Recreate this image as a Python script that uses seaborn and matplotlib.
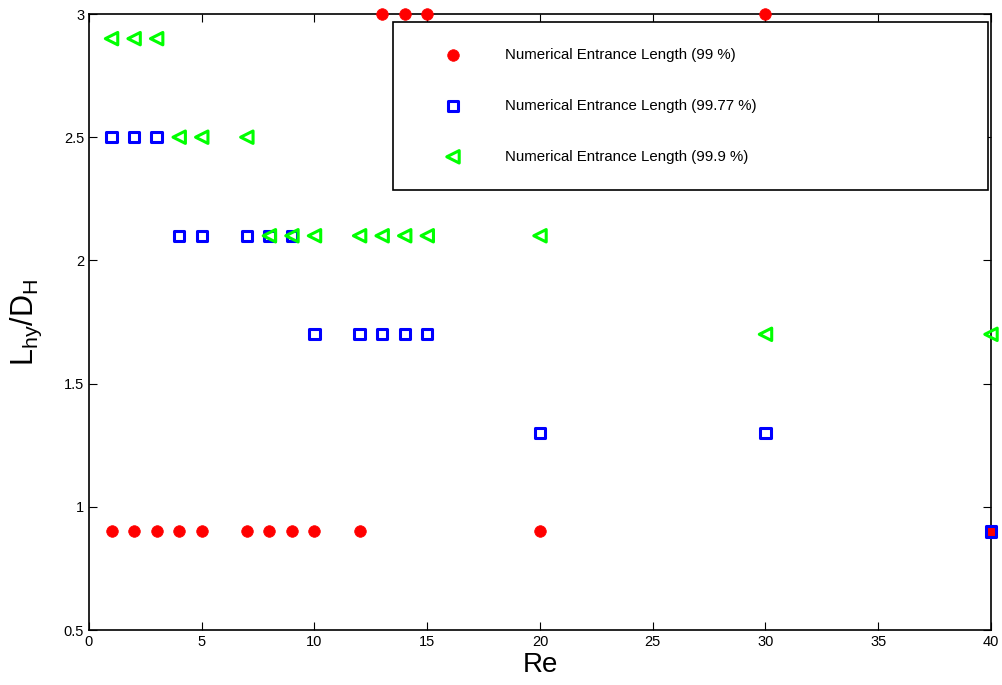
import matplotlib
matplotlib.use("Agg")
import matplotlib.pyplot as plt
import seaborn as sns

# data
re_99 = [1, 2, 3, 4, 5, 7, 8, 9, 10, 12, 13, 14, 15, 20, 30, 40]
len_99 = [0.9, 0.9, 0.9, 0.9, 0.9, 0.9, 0.9, 0.9, 0.9, 0.9, 3.0, 3.0, 3.0, 0.9, 3.0, 0.9]

re_9977 = [1, 2, 3, 4, 5, 7, 8, 9, 10, 12, 13, 14, 15, 20, 30, 40]
len_9977 = [2.5, 2.5, 2.5, 2.1, 2.1, 2.1, 2.1, 2.1, 1.7, 1.7, 1.7, 1.7, 1.7, 1.3, 1.3, 0.9]

re_999 = [1, 2, 3, 4, 5, 7, 8, 9, 10, 12, 13, 14, 15, 20, 30, 40]
len_999 = [2.9, 2.9, 2.9, 2.5, 2.5, 2.5, 2.1, 2.1, 2.1, 2.1, 2.1, 2.1, 2.1, 2.1, 1.7, 1.7]

LABELS = ["Numerical Entrance Length (99 %)",
          "Numerical Entrance Length (99.77 %)",
          "Numerical Entrance Length (99.9 %)"]

sns.set_style("ticks")
plt.rcParams['font.family'] = ['Liberation Sans', 'DejaVu Sans']
plt.rcParams.update({'text.color': 'black', 'axes.labelcolor': 'black',
                     'xtick.color': 'black', 'ytick.color': 'black'})

fig = plt.figure(figsize=(10.03, 6.85), dpi=100)
ax = fig.add_axes([89 / 1003, 1 - 630 / 685, (991 - 89) / 1003, (630 - 14) / 685])

sns.scatterplot(x=re_99, y=len_99, ax=ax, marker='o', s=70, color='#ff0000',
                edgecolor='#ff0000', linewidth=0.5, label=LABELS[0], clip_on=False, zorder=3)
sns.scatterplot(x=re_9977, y=len_9977, ax=ax, marker='s', s=55, facecolor='none',
                edgecolor='#0000ff', linewidth=2.2, label=LABELS[1], clip_on=False, zorder=4)
sns.scatterplot(x=re_999, y=len_999, ax=ax, marker='<', s=80, facecolor='none',
                edgecolor='#00ff00', linewidth=2.2, label=LABELS[2], clip_on=False, zorder=5)

ax.set_xlim(0, 40)
ax.set_ylim(0.5, 3)
ax.set_xticks(range(0, 41, 5))
ax.set_yticks([0.5, 1, 1.5, 2, 2.5, 3])
ax.set_yticklabels(['0.5', '1', '1.5', '2', '2.5', '3'])
ax.tick_params(direction='in', top=True, right=True, labelsize=10.5, length=6, width=0.8)
for sp in ax.spines.values():
    sp.set_visible(True)
    sp.set_linewidth(1.2)
    sp.set_color('black')

ax.set_xlabel('Re', fontsize=20, labelpad=2)
ax.set_ylabel(r'L$_{\mathregular{hy}}$/D$_{\mathregular{H}}$', fontsize=22, labelpad=14)

# legend box spans x 393..988, y 22..187 px in the reference
x0 = (393 - 89) / 902
x1 = (988 - 89) / 902
y1 = (630 - 22) / 616
leg = ax.legend(loc='upper left', bbox_to_anchor=(x0, y1, x1 - x0, 0), mode='expand',
                fontsize=10.8, frameon=True, fancybox=False, edgecolor='black',
                borderpad=1.75, labelspacing=2.45, handlelength=4.5,
                handletextpad=1.2, borderaxespad=0, markerscale=1.0)
leg._legend_box.align = 'left'
leg.get_frame().set_linewidth(1.2)
leg.get_frame().set_alpha(1)

fig.savefig('out.png', dpi=100)
